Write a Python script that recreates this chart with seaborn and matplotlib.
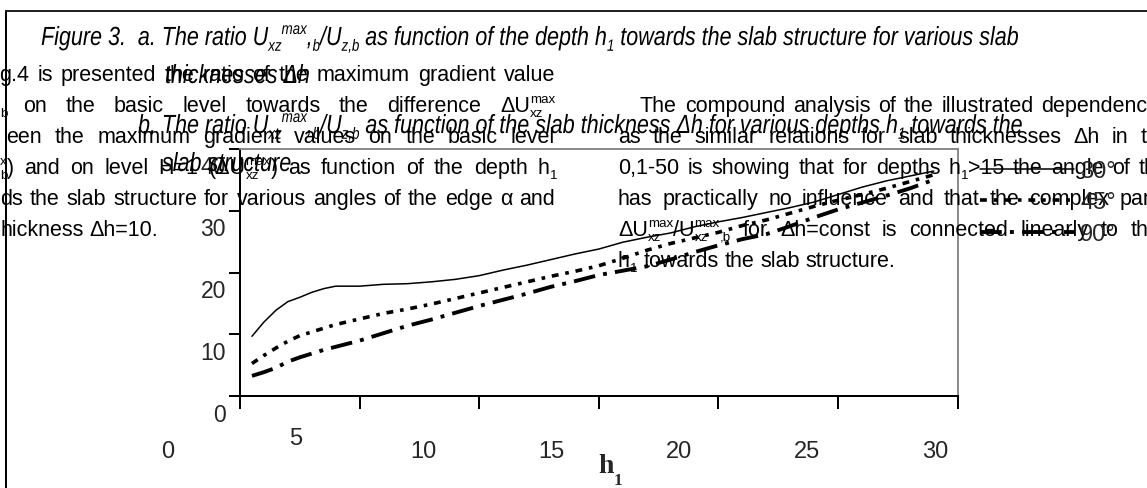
import re
import numpy as np
import pandas as pd
import matplotlib
matplotlib.use("Agg")
import matplotlib.pyplot as plt
import seaborn as sns
from matplotlib import font_manager
from matplotlib.patheffects import AbstractPathEffect
from matplotlib.transforms import Affine2D, ScaledTranslation
from matplotlib.lines import Line2D

# ---------------------------------------------------------------- data ----
h1 = [0.5, 1, 1.5, 2, 2.5, 3, 3.5, 4, 5, 6, 7, 8, 9, 10, 11, 12, 13, 14, 15,
      16, 17, 18, 19, 20, 21, 22, 23, 24, 25, 26, 27, 28, 29]
ratio_30 = [9.7, 12.0, 13.9, 15.3, 16.0, 16.8, 17.4, 17.8,
            17.8, 18.1, 18.2, 18.5, 18.9, 19.5, 20.4, 21.2, 22.1, 23.0, 23.8,
            24.9, 25.7, 26.4, 27.4, 28.2, 28.9, 29.7, 30.5, 31.4, 32.6, 33.8,
            34.8, 35.6, 36.4]
ratio_45 = [5.3, 6.6, 7.8, 8.9, 9.8, 10.4, 11.0, 11.6,
            12.5, 13.4, 14.1, 14.9, 15.8, 16.7, 17.6, 18.5, 19.4, 20.2, 21.1,
            22.3, 23.6, 24.7, 25.6, 26.5, 27.6, 28.5, 29.6, 30.7, 31.7, 32.6,
            33.6, 34.7, 35.8]
ratio_90 = [3.3, 3.9, 4.6, 5.6, 6.3, 6.9, 7.5, 8.0,
            9.0, 10.2, 11.4, 12.4, 13.5, 14.6, 15.6, 16.6, 17.7, 18.6, 19.6,
            20.3, 21.0, 22.1, 23.3, 24.4, 25.4, 26.2, 27.5, 28.9, 30.2, 31.3,
            32.4, 33.6, 35.0]
angles = ["30°", "45°", "90°"]
x_ticks = [0, 5, 10, 15, 20, 25, 30]
x_tick_labels = ["0", "5", "10", "15", "20", "25", "30"]
y_ticks = [0, 10, 20, 30, 40]
y_tick_labels = ["0", "10", "20", "30", "40"]

# --------------------------------------------------------------- setup ----
W, H, DPI = 1147, 489, 100
sns.set_style("white")
plt.rcParams["font.family"] = ["Liberation Sans", "DejaVu Sans"]

BODY = ["Liberation Sans", "DejaVu Sans"]
installed = {f.name for f in font_manager.fontManager.ttflist}
if "Liberation Sans Narrow" in installed:
    CAPTION, CAP_SQUEEZE = ["Liberation Sans Narrow", "DejaVu Sans"], 1.0
else:
    CAPTION, CAP_SQUEEZE = BODY, 0.82

fig = plt.figure(figsize=(W / DPI, H / DPI), dpi=DPI)
renderer = fig.canvas.get_renderer()


class Squeeze(AbstractPathEffect):
    """Compress glyph outlines horizontally around a fixed x (pixels)."""

    def __init__(self, factor, x0):
        super().__init__()
        self._m = Affine2D().translate(-x0, 0).scale(factor, 1).translate(x0, 0)

    def draw_path(self, renderer, gc, tpath, affine, rgbFace=None):
        renderer.draw_path(gc, tpath, affine + self._m, rgbFace)


TOKEN = re.compile(r"_\{([^}]*)\}|\^\{([^}]*)\}|([^_^]+)")


def parse(word):
    segs = []
    for m in TOKEN.finditer(word):
        if m.group(1) is not None:
            segs.append((m.group(1), "sub"))
        elif m.group(2) is not None:
            segs.append((m.group(2), "sup"))
        else:
            segs.append((m.group(3), "n"))
    return segs


def build_word(word, size, family, style, squeeze, stack):
    """Create the text pieces of one word; return (pieces, width)."""
    px = size * DPI / 72.0
    pieces, x, last = [], 0.0, None
    for s, kind in parse(word):
        fs = size if kind == "n" else size * 0.62
        t = fig.text(0, 0, s, fontsize=fs, family=family, style=style,
                     ha="left", va="baseline", color="black")
        w = t.get_window_extent(renderer).width * squeeze
        dy = {"n": 0.0, "sub": 0.22 * px, "sup": -0.42 * px}[kind]
        if stack and last is not None and kind != "n" and kind != last[2]:
            x0 = last[0]
            pieces.append((t, x0, dy))
            x = x0 + max(w, last[1])
            last = None
        else:
            pieces.append((t, x, dy))
            last = (x, w, kind) if kind != "n" else None
            x += w
    return pieces, x


def space_width(size, family, style, squeeze):
    a = fig.text(0, 0, "a a", fontsize=size, family=family, style=style)
    b = fig.text(0, 0, "aa", fontsize=size, family=family, style=style)
    w = (a.get_window_extent(renderer).width - b.get_window_extent(renderer).width)
    a.remove()
    b.remove()
    return w * squeeze


def text_line(text, x0, base, size, family=BODY, style="normal", squeeze=1.0,
              x1=None, stack=True):
    words = text.split(" ")
    built = [build_word(w, size, family, style, squeeze, stack) for w in words]
    total = sum(b[1] for b in built)
    if x1 is not None and len(built) > 1:
        gap = (x1 - x0 - total) / (len(built) - 1)
    else:
        gap = space_width(size, family, style, squeeze)
    x = x0
    for pieces, wd in built:
        for t, dx, dy in pieces:
            X = x + dx
            t.set_position((X / W, 1 - (base + dy) / H))
            if squeeze != 1.0:
                t.set_path_effects([Squeeze(squeeze, X)])
        x += wd + gap


# ---------------------------------------------------------------- chart ----
ax = fig.add_axes([240 / W, 1 - 397.3 / H, (957.7 - 240) / W, (397.3 - 149.8) / H])

df = pd.DataFrame({
    "h1": h1 * 3,
    "ratio": ratio_30 + ratio_45 + ratio_90,
    "angle": [angles[0]] * len(h1) + [angles[1]] * len(h1) + [angles[2]] * len(h1),
})
sns.lineplot(
    data=df, x="h1", y="ratio", hue="angle", style="angle", size="angle",
    hue_order=angles, style_order=angles, size_order=angles,
    palette={a: "black" for a in angles},
    sizes={angles[0]: 1.1, angles[1]: 2.6, angles[2]: 2.8},
    dashes={angles[0]: "", angles[1]: (1.9, 1.9, 1.0, 1.9),
            angles[2]: (5.6, 2.1, 1.0, 2.1)},
    estimator=None, legend=False, ax=ax,
)
ax.set_xlim(0, 30)
ax.set_ylim(0, 40)
ax.set_xticks(x_ticks)
ax.set_yticks(y_ticks)
ax.set_xlabel("")
ax.set_ylabel("")
ax.tick_params(axis="x", direction="out", length=9.4, width=1.44,
               color="black", labelbottom=False, bottom=True)
ax.tick_params(axis="y", direction="out", length=8, width=1.44,
               color="black", labelleft=False, left=True)
for side in ("left", "bottom"):
    ax.spines[side].set_color("black")
    ax.spines[side].set_linewidth(1.44)
for side in ("top", "right"):
    ax.spines[side].set_color("#808080")
    ax.spines[side].set_linewidth(1.3)

# value labels of the y axis, set a little below their ticks
ytrans = ax.get_yaxis_transform() + ScaledTranslation(-14 / DPI, -18 / DPI,
                                                       fig.dpi_scale_trans)
for v, lab in zip(y_ticks, y_tick_labels):
    ax.text(0, v, lab, transform=ytrans, ha="right", va="center",
            fontsize=16.5, family=BODY, clip_on=False)

# labels of the h1 axis
label_x = np.linspace(168, 935, len(x_tick_labels))
label_raise = [0, 13, 0, 0, 0, 0, 0]
for xc, lab, up in zip(label_x, x_tick_labels, label_raise):
    fig.text(xc / W, 1 - (458 - up) / H, lab, ha="center", va="baseline",
             fontsize=17, family=BODY)
fig.text(606 / W, 1 - 473 / H, "h", ha="center", va="baseline", fontsize=20,
         family=["Liberation Serif", "DejaVu Serif"], weight="bold")
fig.text(618 / W, 1 - 485 / H, "1", ha="center", va="baseline", fontsize=12.5,
         family=["Liberation Serif", "DejaVu Serif"], weight="bold")

# legend of the edge angle
fig.legend(ax.lines[:3], angles, loc="upper left",
           bbox_to_anchor=(980 / W, 1 - 161 / H), bbox_transform=fig.transFigure,
           frameon=False, fontsize=17, handlelength=4.0, handletextpad=0.25,
           labelspacing=0.4, borderpad=0, borderaxespad=0)

# ------------------------------------------------------------ page frame ----
fig.add_artist(Line2D([5.5 / W, 5.5 / W], [0, 1 - 12 / H], transform=fig.transFigure,
                      color="black", lw=1.44))
fig.add_artist(Line2D([5.5 / W, 1], [1 - 12 / H, 1 - 12 / H], transform=fig.transFigure,
                      color="#222222", lw=1.44))

# ----------------------------------------------------------------- text ----
BS = 15.5   # body text size
CS = 18.9   # caption size

# captions
text_line("Figure 3.  a. The ratio U_{xz}^{max},_{b}/U_{z,b} as function of the "
          "depth h_{1} towards the slab structure for various slab",
          41, 46, CS, CAPTION, "italic", CAP_SQUEEZE, stack=False)
text_line("thicknesses Δh", 165, 84, CS, CAPTION, "italic", CAP_SQUEEZE, stack=False)
text_line("b. The ratio U_{xz}^{max},_{b}/U_{z,b} as function of the slab thickness "
          "Δh for various depths h_{1} towards the",
          138, 134, CS, CAPTION, "italic", CAP_SQUEEZE, stack=False)
text_line("slab structure", 162, 172, CS, CAPTION, "italic", CAP_SQUEEZE, stack=False)

# left column of the page
text_line("g.4 is presented the ratio of the maximum gradient value", -1, 81, BS, x1=555)
text_line("_{b}", 0, 112, BS)
text_line("on the basic level towards the difference ΔU_{xz}^{max}", 23, 112, BS, x1=555)
text_line("een the maximum gradient values on the basic level", 6, 143, BS, x1=555)
text_line("^{x}_{b}) and on level H=1 (ΔU_{xz}^{max}) as function of the depth h_{1}",
          0, 174, BS, x1=557)
text_line("ds the slab structure for various angles of the edge α and", 0, 205, BS, x1=555)
text_line("hickness Δh=10.", 0, 236, BS)

# right column of the page
text_line("The compound analysis of the illustrated dependences", 640, 112, BS, x1=1170)
text_line("as the similar relations for slab thicknesses Δh in the", 618, 143, BS, x1=1170)
text_line("0,1-50 is showing that for depths h_{1}>15 the angle of the", 618, 174, BS,
          x1=1168)
text_line("has practically no influence and that the complex parameter", 618, 205, BS,
          x1=1217)
text_line("ΔU_{xz}^{max}/U_{xz}^{max}_{,b} for Δh=const is connected linearly to the",
          618, 236, BS, x1=1160)
text_line("h_{1} towards the slab structure.", 618, 267, BS)

fig.savefig("out.png", dpi=DPI, facecolor="white")
